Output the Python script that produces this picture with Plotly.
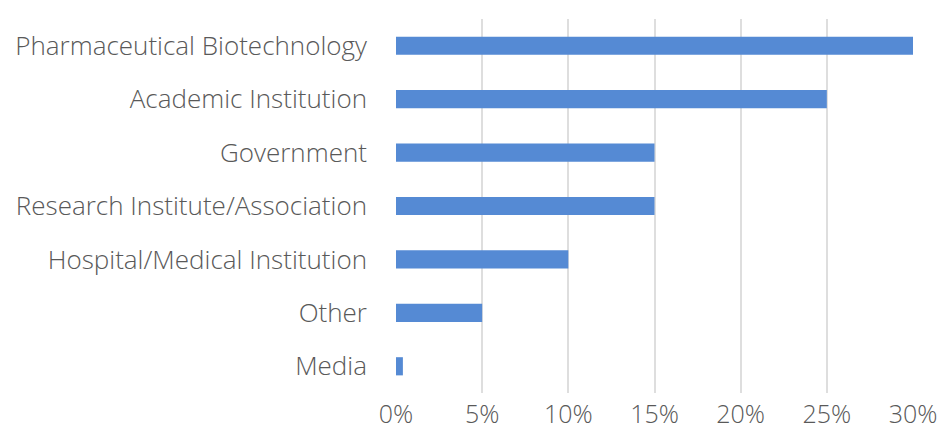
import plotly.graph_objects as go

categories = ["Pharmaceutical Biotechnology", "Academic Institution", "Government",
              "Research Institute/Association", "Hospital/Medical Institution", "Other", "Media"]
values = [30, 25, 15, 15, 10, 5, 0.4]
tick_vals = [0, 5, 10, 15, 20, 25, 30]
tick_text = ["0%", "5%", "10%", "15%", "20%", "25%", "30%"]

fig = go.Figure(go.Bar(
    x=values, y=categories, orientation="h",
    marker=dict(color="#558ad4", line=dict(width=0)),
    width=0.34,
))
fig.update_layout(
    width=943, height=424,
    margin=dict(l=388, r=38, t=11, b=39),
    paper_bgcolor="white", plot_bgcolor="white",
    font=dict(family="Open Sans", size=26, color="#595959", weight=300),
    showlegend=False,
)
fig.update_yaxes(autorange="reversed", showgrid=False, showline=False, ticks="",
                 automargin=False, ticklabelstandoff=28,
                 tickfont=dict(size=26, color="#595959", weight=300))
fig.update_xaxes(range=[0, 30], tickvals=tick_vals, ticktext=tick_text,
                 showgrid=True, gridcolor="#dedede", gridwidth=2, zeroline=False,
                 showline=False, ticks="", automargin=False, ticklabelstandoff=4,
                 tickfont=dict(size=25, color="#595959", weight=300))
fig.write_html("out.html")
